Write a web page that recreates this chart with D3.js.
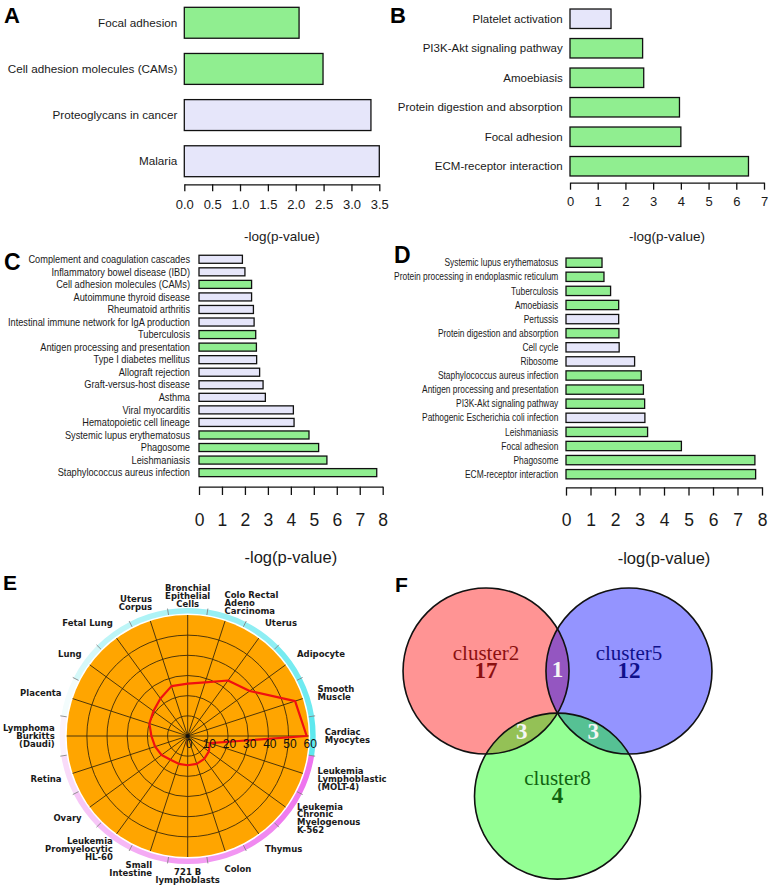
<!DOCTYPE html>
<html>
<head>
<meta charset="utf-8">
<script src="https://cdn.jsdelivr.net/npm/d3@7"></script>
<style>
  body { margin: 0; background: #fff; }
  svg { display: block; }
</style>
</head>
<body>
<script>
// ---------- DATA ----------
// A
var termsA = ['Focal adhesion', 'Cell adhesion molecules (CAMs)', 'Proteoglycans in cancer', 'Malaria'];
var scoresA = [2.06, 2.49, 3.35, 3.50];
var flagsA = [1, 1, 0, 0];
var ticksA = [0, 0.5, 1, 1.5, 2, 2.5, 3, 3.5];

// B
var termsB = ['Platelet activation', 'PI3K-Akt signaling pathway', 'Amoebiasis',
  'Protein digestion and absorption', 'Focal adhesion', 'ECM-receptor interaction'];
var scoresB = [1.48, 2.62, 2.66, 3.95, 4.0, 6.44];
var flagsB = [0, 1, 1, 1, 1, 1];
var ticksB = [0, 1, 2, 3, 4, 5, 6, 7];

// C
var termsC = ['Complement and coagulation cascades', 'Inflammatory bowel disease (IBD)',
  'Cell adhesion molecules (CAMs)', 'Autoimmune thyroid disease', 'Rheumatoid arthritis',
  'Intestinal immune network for IgA production', 'Tuberculosis', 'Antigen processing and presentation',
  'Type I diabetes mellitus', 'Allograft rejection', 'Graft-versus-host disease', 'Asthma',
  'Viral myocarditis', 'Hematopoietic cell lineage', 'Systemic lupus erythematosus', 'Phagosome',
  'Leishmaniasis', 'Staphylococcus aureus infection'];
var scoresC = [1.89, 2.0, 2.29, 2.29, 2.37, 2.4, 2.47, 2.5, 2.51, 2.64, 2.79, 2.89,
  4.11, 4.14, 4.79, 5.21, 5.57, 7.74];
var flagsC = [0, 0, 1, 0, 0, 0, 1, 1, 0, 0, 0, 0, 0, 0, 1, 1, 1, 1];
var ticksC = [0, 1, 2, 3, 4, 5, 6, 7, 8];

// D
var termsD = ['Systemic lupus erythematosus', 'Protein processing in endoplasmic reticulum',
  'Tuberculosis', 'Amoebiasis', 'Pertussis', 'Protein digestion and absorption', 'Cell cycle',
  'Ribosome', 'Staphylococcus aureus infection', 'Antigen processing and presentation',
  'PI3K-Akt signaling pathway', 'Pathogenic Escherichia coli infection', 'Leishmaniasis',
  'Focal adhesion', 'Phagosome', 'ECM-receptor interaction'];
var scoresD = [1.47, 1.55, 1.82, 2.15, 2.15, 2.16, 2.17, 2.8, 3.07, 3.16, 3.21, 3.22,
  3.33, 4.71, 7.71, 7.74];
var flagsD = [1, 1, 1, 1, 0, 1, 0, 0, 1, 1, 1, 0, 1, 1, 1, 1];
var ticksD = [0, 1, 2, 3, 4, 5, 6, 7, 8];

// E (clockwise from top)
var tissues = ['Bronchial\nEpithelial\nCells', 'Colo Rectal\nAdeno\nCarcinoma', 'Uterus', 'Adipocyte',
  'Smooth\nMuscle', 'Cardiac\nMyocytes', 'Leukemia\nLymphoblastic\n(MOLT-4)',
  'Leukemia\nChronic\nMyelogenous\nK-562', 'Thymus', 'Colon', '721 B\nlymphoblasts',
  'Small\nIntestine', 'Leukemia\nPromyelocytic\nHL-60', 'Ovary', 'Retina',
  'Lymphoma\nBurkitts\n(Daudi)', 'Placenta', 'Lung', 'Fetal Lung', 'Uterus\nCorpus'];
var tissueValues = [26, 28, 34, 38, 56, 59, 11.5, 13, 14, 14.5, 14.5, 14.5, 14.5, 16, 17,
  18, 20, 21, 23, 26];
var tissueBand = [0.6, 0.65, 0.7, 0.85, 0.9, 1, -1, -0.95, -0.85, -0.75, -0.7, -0.6, -0.5,
  -0.4, -0.25, -0.08, 0.06, 0.25, 0.4, 0.5];
var ringTicks = [0, 10, 20, 30, 40, 50, 60];

// F
var vennSets = ['cluster2', 'cluster5', 'cluster8'];
var vennOnly = [17, 12, 4];
var vennPairs = [[0, 1], [0, 2], [1, 2]];
var vennPairCounts = [1, 3, 3];

// ---------- SETUP ----------
var sans = "'Liberation Sans', Arial, sans-serif";
var svg = d3.select('body').append('svg').attr('width', 770).attr('height', 888);

var barFill = d3.scaleOrdinal().domain([0, 1]).range(['#e6e6fa', '#90ee90']);

function translation(x, y) {
  return 'translate(' + x + ',' + y + ')';
}

function letter(t, x, y, size) {
  svg.append('text').attr('x', x).attr('y', y).text(t)
    .style('font-family', sans).style('font-weight', 'bold').style('font-size', size + 'px');
}

function barPanel(p) {
  var g = svg.append('g');
  var x = d3.scaleLinear().domain([0, p.max]).range([p.x0, p.x1]);
  var y = d3.scaleBand().domain(p.terms).range(p.yRange)
    .paddingInner(p.pad).paddingOuter(p.pad / 2);
  var rows = p.terms.map(function (t, i) {
    return { term: t, score: p.scores[i], flag: p.flags[i] };
  });

  g.selectAll('rect').data(rows).enter().append('rect')
    .attr('x', x(0))
    .attr('y', function (d) { return y(d.term); })
    .attr('width', function (d) { return x(d.score) - x(0); })
    .attr('height', y.bandwidth())
    .attr('fill', function (d) { return barFill(d.flag); })
    .attr('stroke', '#111').attr('stroke-width', 1.3);

  g.selectAll('text.term').data(rows).enter().append('text')
    .attr('class', 'term')
    .attr('transform', function (d) {
      return translation(x(0) - p.gap, y(d.term) + y.bandwidth() / 2) + ' scale(' + p.sx + ',1)';
    })
    .attr('text-anchor', 'end').attr('dy', '0.35em')
    .style('font-family', sans).style('font-size', p.fs + 'px').attr('fill', '#1a1a1a')
    .text(function (d) { return d.term; });

  var axis = d3.axisBottom(x).tickValues(p.ticks).tickSize(p.tick).tickSizeOuter(0)
    .tickPadding(p.tickPad).tickFormat(p.fmt);
  var a = g.append('g').attr('transform', translation(0, p.axisY)).call(axis);
  a.attr('font-family', sans).attr('font-size', p.tickFs);
  a.select('.domain').attr('stroke', '#111').attr('stroke-width', 1.3);
  a.selectAll('.tick line').attr('stroke', '#111').attr('stroke-width', 1.3);
  a.selectAll('.tick text').attr('fill', '#1a1a1a');

  g.append('text').attr('x', (p.x0 + p.x1) / 2).attr('y', p.labelY)
    .attr('text-anchor', 'middle').style('font-family', sans)
    .style('font-size', p.labelFs + 'px').attr('fill', '#1a1a1a')
    .text('-log(p-value)');
}

// ---------- A / B / C / D ----------
barPanel({ terms: termsA, scores: scoresA, flags: flagsA, ticks: ticksA, max: 3.5,
  x0: 184.3, x1: 379.3, yRange: [-0.3, 184.3], pad: 0.33, gap: 7, sx: 1, fs: 11.7,
  axisY: 184.3, tick: 7, tickPad: 8.8, tickFs: 13, fmt: d3.format('.1f'),
  labelY: 241, labelFs: 13.5 });
letter('A', 4, 23, 22);

barPanel({ terms: termsB, scores: scoresB, flags: flagsB, ticks: ticksB, max: 7,
  x0: 570, x1: 764, yRange: [4, 181], pad: 0.34, gap: 7.3, sx: 1, fs: 11.5,
  axisY: 182.7, tick: 7, tickPad: 7.1, tickFs: 13, fmt: d3.format('d'),
  labelY: 241, labelFs: 13.5 });
letter('B', 390, 23, 22);

barPanel({ terms: termsC, scores: scoresC, flags: flagsC, ticks: ticksC, max: 8,
  x0: 199, x1: 382.7, yRange: [253, 478.9], pad: 0.36, gap: 9, sx: 0.88, fs: 10.5,
  axisY: 486.7, tick: 8.3, tickPad: 18.3, tickFs: 17.5, fmt: d3.format('d'),
  labelY: 563, labelFs: 16.5 });
letter('C', 4, 270, 23);

barPanel({ terms: termsD, scores: scoresD, flags: flagsD, ticks: ticksD, max: 8,
  x0: 566, x1: 762, yRange: [255.65, 481.25], pad: 0.34, gap: 7.7, sx: 0.8, fs: 10.5,
  axisY: 487.3, tick: 8.3, tickPad: 17.9, tickFs: 17.5, fmt: d3.format('d'),
  labelY: 564, labelFs: 16.5 });
letter('D', 394, 263, 23);

// ---------- E : radar ----------
(function () {
  var cx = 187.7, cy = 736, rMax = 121;
  var n = tissues.length;
  var r = d3.scaleLinear().domain([0, 60]).range([0, rMax]);
  var ang = d3.scaleLinear().domain([0, n]).range([0, 2 * Math.PI]);
  var band = d3.scaleLinear().domain([-1, 0, 1]).range(['#ee74ee', '#fdfdfd', '#5ee8ee']);
  var g = svg.append('g').attr('transform', translation(cx, cy));

  g.append('circle').attr('r', r(60)).attr('fill', '#ffa500');

  var arc = d3.arc().innerRadius(rMax + 1.5).outerRadius(rMax + 7);
  g.selectAll('path.band').data(tissueBand).enter().append('path')
    .attr('class', 'band')
    .attr('d', function (d, i) {
      return arc({ startAngle: ang(i - 0.5), endAngle: ang(i + 0.5) });
    })
    .attr('fill', function (d) { return band(d); });

  g.selectAll('line.btick').data(tissues).enter().append('line')
    .attr('class', 'btick')
    .attr('x1', function (d, i) { return (rMax + 1.5) * Math.sin(ang(i + 0.5)); })
    .attr('y1', function (d, i) { return -(rMax + 1.5) * Math.cos(ang(i + 0.5)); })
    .attr('x2', function (d, i) { return (rMax + 8) * Math.sin(ang(i + 0.5)); })
    .attr('y2', function (d, i) { return -(rMax + 8) * Math.cos(ang(i + 0.5)); })
    .attr('stroke', '#777').attr('stroke-width', 0.8);

  g.selectAll('circle.ring').data(ringTicks.slice(1, -1)).enter().append('circle')
    .attr('class', 'ring').attr('r', function (d) { return r(d); })
    .attr('fill', 'none').attr('stroke', '#3b2a0a').attr('stroke-width', 0.9);

  g.selectAll('line.spoke').data(tissues).enter().append('line')
    .attr('class', 'spoke')
    .attr('x2', function (d, i) { return rMax * Math.sin(ang(i)); })
    .attr('y2', function (d, i) { return -rMax * Math.cos(ang(i)); })
    .attr('stroke', '#3b2a0a').attr('stroke-width', 0.9);

  g.append('circle').attr('r', 2).attr('fill', '#111');

  var line = d3.lineRadial()
    .angle(function (d, i) { return ang(i); })
    .radius(function (d) { return r(d); })
    .curve(d3.curveLinearClosed);
  g.append('path').attr('d', line(tissueValues))
    .attr('fill', 'none').attr('stroke', '#f01010').attr('stroke-width', 2.2)
    .attr('stroke-linejoin', 'round');

  g.selectAll('text.rt').data(ringTicks).enter().append('text')
    .attr('class', 'rt')
    .attr('x', function (d) { return r(d) + 1.5; })
    .attr('y', 11.5)
    .attr('text-anchor', 'middle')
    .style('font-family', sans).style('font-size', '12px').attr('fill', '#111')
    .text(function (d) { return d; });

  // tissue names round the rim
  var lab = g.selectAll('g.tl').data(tissues).enter().append('g').attr('class', 'tl')
    .attr('transform', function (d, i) {
      var s = Math.sin(ang(i)), c = Math.cos(ang(i));
      var x = (s > 0 ? 137 : 133) * s;
      if (Math.abs(s) > 0.01) x -= Math.sign(s) * 8 * (1 - Math.abs(s));
      return translation(x, -140 * c);
    });
  lab.each(function (d, i) {
    var s = Math.sin(ang(i));
    var anchor = s > 0.01 ? 'start' : (s < -0.01 ? 'end' : 'middle');
    var lines = d.split('\n');
    var t = d3.select(this).append('text')
      .attr('text-anchor', anchor)
      .style('font-family', "'DejaVu Sans', Verdana, sans-serif")
      .style('font-weight', 'bold').style('font-size', '8.5px').attr('fill', '#1a1a1a');
    t.selectAll('tspan').data(lines).enter().append('tspan')
      .attr('x', 0)
      .attr('y', function (l, k) { return (k - (lines.length - 1) / 2) * 7.9; })
      .attr('dy', '0.36em')
      .text(function (l) { return l; });
  });
})();
letter('E', 3, 590, 21);

// ---------- F : venn ----------
(function () {
  var unit = [[-0.861, 0], [0.861, 0], [0, 1.508]];
  var vx = d3.scaleLinear().domain([0, 1]).range([557.5, 640.5]);
  var vy = d3.scaleLinear().domain([0, 1]).range([671, 754]);
  var rad = vx(1) - vx(0);
  var fills = ['#ff0000', '#0000ff', '#00ff00'];
  var dark = ['#8b1010', '#10108b', '#106410'];
  var serif = "'Liberation Serif', 'Times New Roman', serif";
  var g = svg.append('g');

  g.selectAll('circle.fill').data(vennSets).enter().append('circle')
    .attr('class', 'fill')
    .attr('cx', function (d, i) { return vx(unit[i][0]); })
    .attr('cy', function (d, i) { return vy(unit[i][1]); })
    .attr('r', rad)
    .attr('fill', function (d, i) { return fills[i]; })
    .attr('fill-opacity', 0.42);
  g.selectAll('circle.edge').data(vennSets).enter().append('circle')
    .attr('class', 'edge')
    .attr('cx', function (d, i) { return vx(unit[i][0]); })
    .attr('cy', function (d, i) { return vy(unit[i][1]); })
    .attr('r', rad)
    .attr('fill', 'none').attr('stroke', '#111').attr('stroke-width', 1.6);

  g.selectAll('text.set').data(vennSets).enter().append('text')
    .attr('class', 'set')
    .attr('x', function (d, i) { return vx(unit[i][0]); })
    .attr('y', function (d, i) { return vy(unit[i][1] - 0.135); })
    .attr('text-anchor', 'middle').style('font-family', serif).style('font-size', '21px')
    .attr('fill', function (d, i) { return dark[i]; })
    .text(function (d) { return d; });
  g.selectAll('text.cnt').data(vennOnly).enter().append('text')
    .attr('class', 'cnt')
    .attr('x', function (d, i) { return vx(unit[i][0]); })
    .attr('y', function (d, i) { return vy(unit[i][1] + 0.085); })
    .attr('text-anchor', 'middle').style('font-family', serif).style('font-size', '23px')
    .style('font-weight', 'bold')
    .attr('fill', function (d, i) { return dark[i]; })
    .text(function (d) { return d; });
  g.selectAll('text.pair').data(vennPairCounts).enter().append('text')
    .attr('class', 'pair')
    .attr('x', function (d, i) {
      var p = vennPairs[i];
      return vx((unit[p[0]][0] + unit[p[1]][0]) / 2);
    })
    .attr('y', function (d, i) {
      var p = vennPairs[i];
      return vy((unit[p[0]][1] + unit[p[1]][1]) / 2 + 0.07);
    })
    .attr('text-anchor', 'middle').style('font-family', serif).style('font-size', '23px')
    .style('font-weight', 'bold').attr('fill', '#f6f6f6')
    .text(function (d) { return d; });
})();
letter('F', 395, 592, 21);
</script>
</body>
</html>
